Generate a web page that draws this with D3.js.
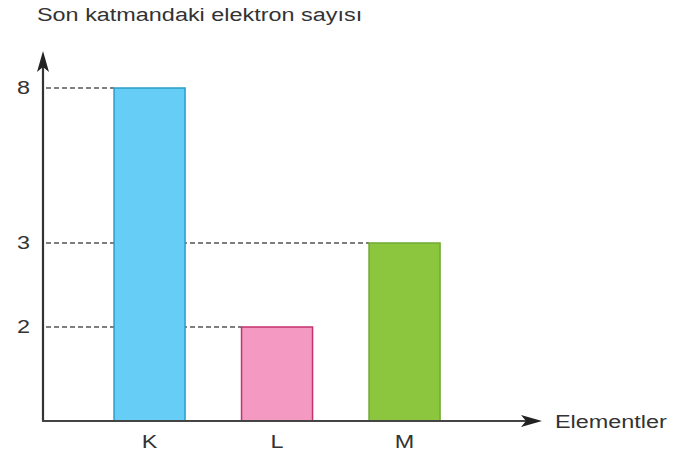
<!DOCTYPE html>
<html>
<head>
<meta charset="utf-8">
<script src="https://cdn.jsdelivr.net/npm/d3@7"></script>
<style>
  body { margin: 0; background: #fff; }
  text { font-family: "Liberation Sans", Arial, sans-serif; fill: #333; }
</style>
</head>
<body>
<svg id="chart" width="677" height="461"></svg>
<script>
// data
var elements = ["K", "L", "M"];
var electrons = [8, 2, 3];
var tickValues = [2, 3, 8];
var fills = ["#66cdf6", "#f49ac2", "#8cc63f"];
var strokes = ["#2b9dc9", "#c2326e", "#6fa932"];

var svg = d3.select("#chart");

var axisX = 43, baseY = 421;
var stretch = 1.3; // the source picture is drawn wide

// schematic (non-linear) y axis, like the drawing
var y = d3.scaleLinear()
    .domain([0, 2, 3, 8])
    .range([baseY, 327, 243, 88]);

var x = d3.scaleBand()
    .domain(elements)
    .range([85.8, 468.3])
    .paddingInner(0.443)
    .paddingOuter(0.2215);

function widen(sel) {
  sel.each(function() {
    var w = this.getComputedTextLength();
    d3.select(this)
      .attr("textLength", w * stretch)
      .attr("lengthAdjust", "spacingAndGlyphs");
  });
}

svg.append("text")
    .attr("x", 37)
    .attr("y", 21)
    .style("font-size", "18px")
    .text("Son katmandaki elektron sayısı")
    .call(widen);

// dashed guides from the axis to each bar's top-left corner
svg.selectAll("line.guide")
  .data(elements)
  .enter().append("line")
    .attr("class", "guide")
    .attr("x1", axisX + 3)
    .attr("x2", function(d) { return x(d); })
    .attr("y1", function(d, i) { return y(electrons[i]); })
    .attr("y2", function(d, i) { return y(electrons[i]); })
    .style("stroke", "#555")
    .style("stroke-width", 1.4)
    .style("stroke-dasharray", "5,3");

svg.selectAll("rect.bar")
  .data(elements)
  .enter().append("rect")
    .attr("class", "bar")
    .attr("x", function(d) { return x(d); })
    .attr("y", function(d, i) { return y(electrons[i]); })
    .attr("width", x.bandwidth())
    .attr("height", function(d, i) { return baseY - y(electrons[i]); })
    .style("fill", function(d, i) { return fills[i]; })
    .style("stroke", function(d, i) { return strokes[i]; })
    .style("stroke-width", 1.5);

// tick labels
svg.selectAll("text.ytick")
  .data(tickValues)
  .enter().append("text")
    .attr("class", "ytick")
    .attr("x", 17)
    .attr("y", function(d) { return y(d); })
    .attr("dy", "0.36em")
    .style("font-size", "18px")
    .text(function(d) { return d; })
    .call(widen);

svg.selectAll("text.xtick")
  .data(elements)
  .enter().append("text")
    .attr("class", "xtick")
    .attr("x", function(d) { return x(d) + x.bandwidth() / 2; })
    .attr("y", 448)
    .style("font-size", "18px")
    .text(function(d) { return d; })
    .call(widen)
    .each(function() {
      var t = d3.select(this);
      t.attr("x", +t.attr("x") - (+t.attr("textLength")) / 2);
    });

// axes with arrows
svg.append("line")
    .attr("x1", axisX).attr("y1", baseY)
    .attr("x2", axisX).attr("y2", 66)
    .style("stroke", "#333").style("stroke-width", 2.2);
svg.append("path")
    .attr("d", "M" + axisX + ",51 L" + (axisX - 6) + ",72 L" + axisX + ",67 L" + (axisX + 6) + ",72 Z")
    .style("fill", "#222");

svg.append("line")
    .attr("x1", axisX - 1).attr("y1", baseY)
    .attr("x2", 530).attr("y2", baseY)
    .style("stroke", "#444").style("stroke-width", 2.2);
svg.append("path")
    .attr("d", "M542," + baseY + " L521," + (baseY - 6) + " L526," + baseY + " L521," + (baseY + 6) + " Z")
    .style("fill", "#222");

svg.append("text")
    .attr("x", 555)
    .attr("y", 428)
    .style("font-size", "18px")
    .text("Elementler")
    .call(widen);
</script>
</body>
</html>
